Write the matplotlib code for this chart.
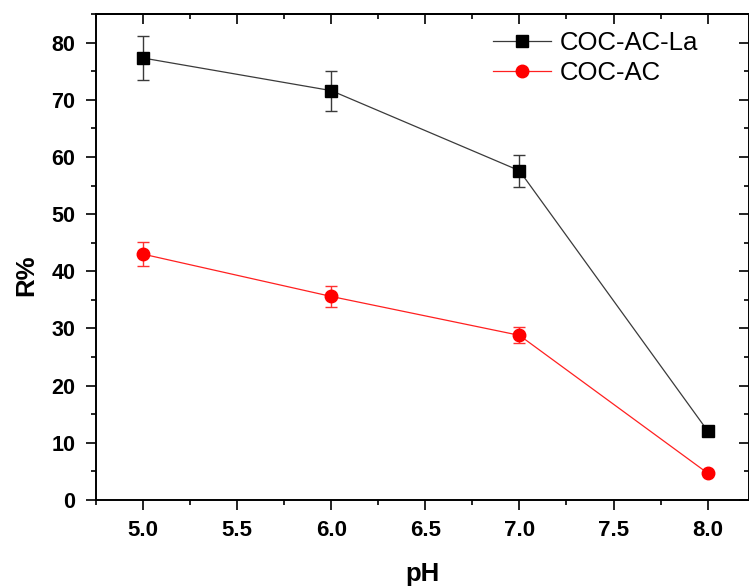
import matplotlib.pyplot as plt
from matplotlib.ticker import MultipleLocator

plt.rcParams['font.family'] = ['Liberation Sans', 'DejaVu Sans']

# pH values and removal (R%) with error bars
ph = [5.0, 6.0, 7.0, 8.0]
r_la = [77.3, 71.6, 57.6, 12.1]
err_la = [3.9, 3.5, 2.8, 0.0]
r_ac = [43.0, 35.6, 28.8, 4.7]
err_ac = [2.1, 1.8, 1.4, 0.0]

fig = plt.figure(figsize=(7.49, 5.88), dpi=100)
ax = fig.add_axes([96 / 749, 88 / 588, 653 / 749, 486 / 588])

# error bars first, then the lines with markers on top
ax.errorbar(ph, r_la, yerr=err_la, fmt='none', ecolor='#3a3a3a',
            elinewidth=1.0, capsize=4.5, capthick=1.0)
ax.errorbar(ph, r_ac, yerr=err_ac, fmt='none', ecolor='#ff3030',
            elinewidth=1.0, capsize=4.5, capthick=1.0)
ax.plot(ph, r_la, color='#3a3a3a', lw=0.9, marker='s', ms=8,
        mfc='black', mec='black', label='COC-AC-La')
ax.plot(ph, r_ac, color='#ff2020', lw=0.9, marker='o', ms=9,
        mfc='red', mec='red', label='COC-AC')

ax.set_xlim(4.75, 8.22)
ax.set_ylim(0, 85)
ax.xaxis.set_major_locator(MultipleLocator(0.5))
ax.xaxis.set_minor_locator(MultipleLocator(0.25))
ax.yaxis.set_major_locator(MultipleLocator(10))
ax.yaxis.set_minor_locator(MultipleLocator(5))
ax.xaxis.set_major_formatter(plt.FormatStrFormatter('%.1f'))

for s in ax.spines.values():
    s.set_linewidth(1.4)

ax.tick_params(axis='both', which='major', length=7.2, width=1.2, pad=7.5)
ax.tick_params(axis='both', which='minor', length=3.6, width=1.2)
ax.tick_params(axis='x', which='both', direction='out', top=False)
ax.tick_params(axis='y', which='both', direction='out', right=False)
ax.tick_params(axis='x', labelsize=16)
ax.tick_params(axis='y', labelsize=15.5)
for lab in ax.get_xticklabels() + ax.get_yticklabels():
    lab.set_fontweight('bold')

# inward ticks on the top and right edges
sec_x = ax.secondary_xaxis('top')
sec_x.xaxis.set_major_locator(MultipleLocator(0.5))
sec_x.xaxis.set_minor_locator(MultipleLocator(0.25))
sec_x.tick_params(which='major', direction='in', length=7.2, width=1.2, labeltop=False)
sec_x.tick_params(which='minor', direction='in', length=3.6, width=1.2)
sec_x.spines['top'].set_linewidth(1.4)
sec_y = ax.secondary_yaxis('right')
sec_y.yaxis.set_major_locator(MultipleLocator(10))
sec_y.yaxis.set_minor_locator(MultipleLocator(5))
sec_y.tick_params(which='major', direction='in', length=7.2, width=1.2, labelright=False)
sec_y.tick_params(which='minor', direction='in', length=3.6, width=1.2)

ax.set_xlabel('pH', fontsize=18.5, fontweight='bold')
ax.set_ylabel('R%', fontsize=18.5, fontweight='bold')
ax.xaxis.set_label_coords(0.5, -0.128)
ax.yaxis.set_label_coords(-0.089, 0.463)

ax.legend(loc='upper left', bbox_to_anchor=(0.608, 0.965), frameon=False,
          fontsize=18.5, borderpad=0, borderaxespad=0, handlelength=2.25,
          handletextpad=0.35, labelspacing=0.25)

fig.savefig('out.png', dpi=100)
